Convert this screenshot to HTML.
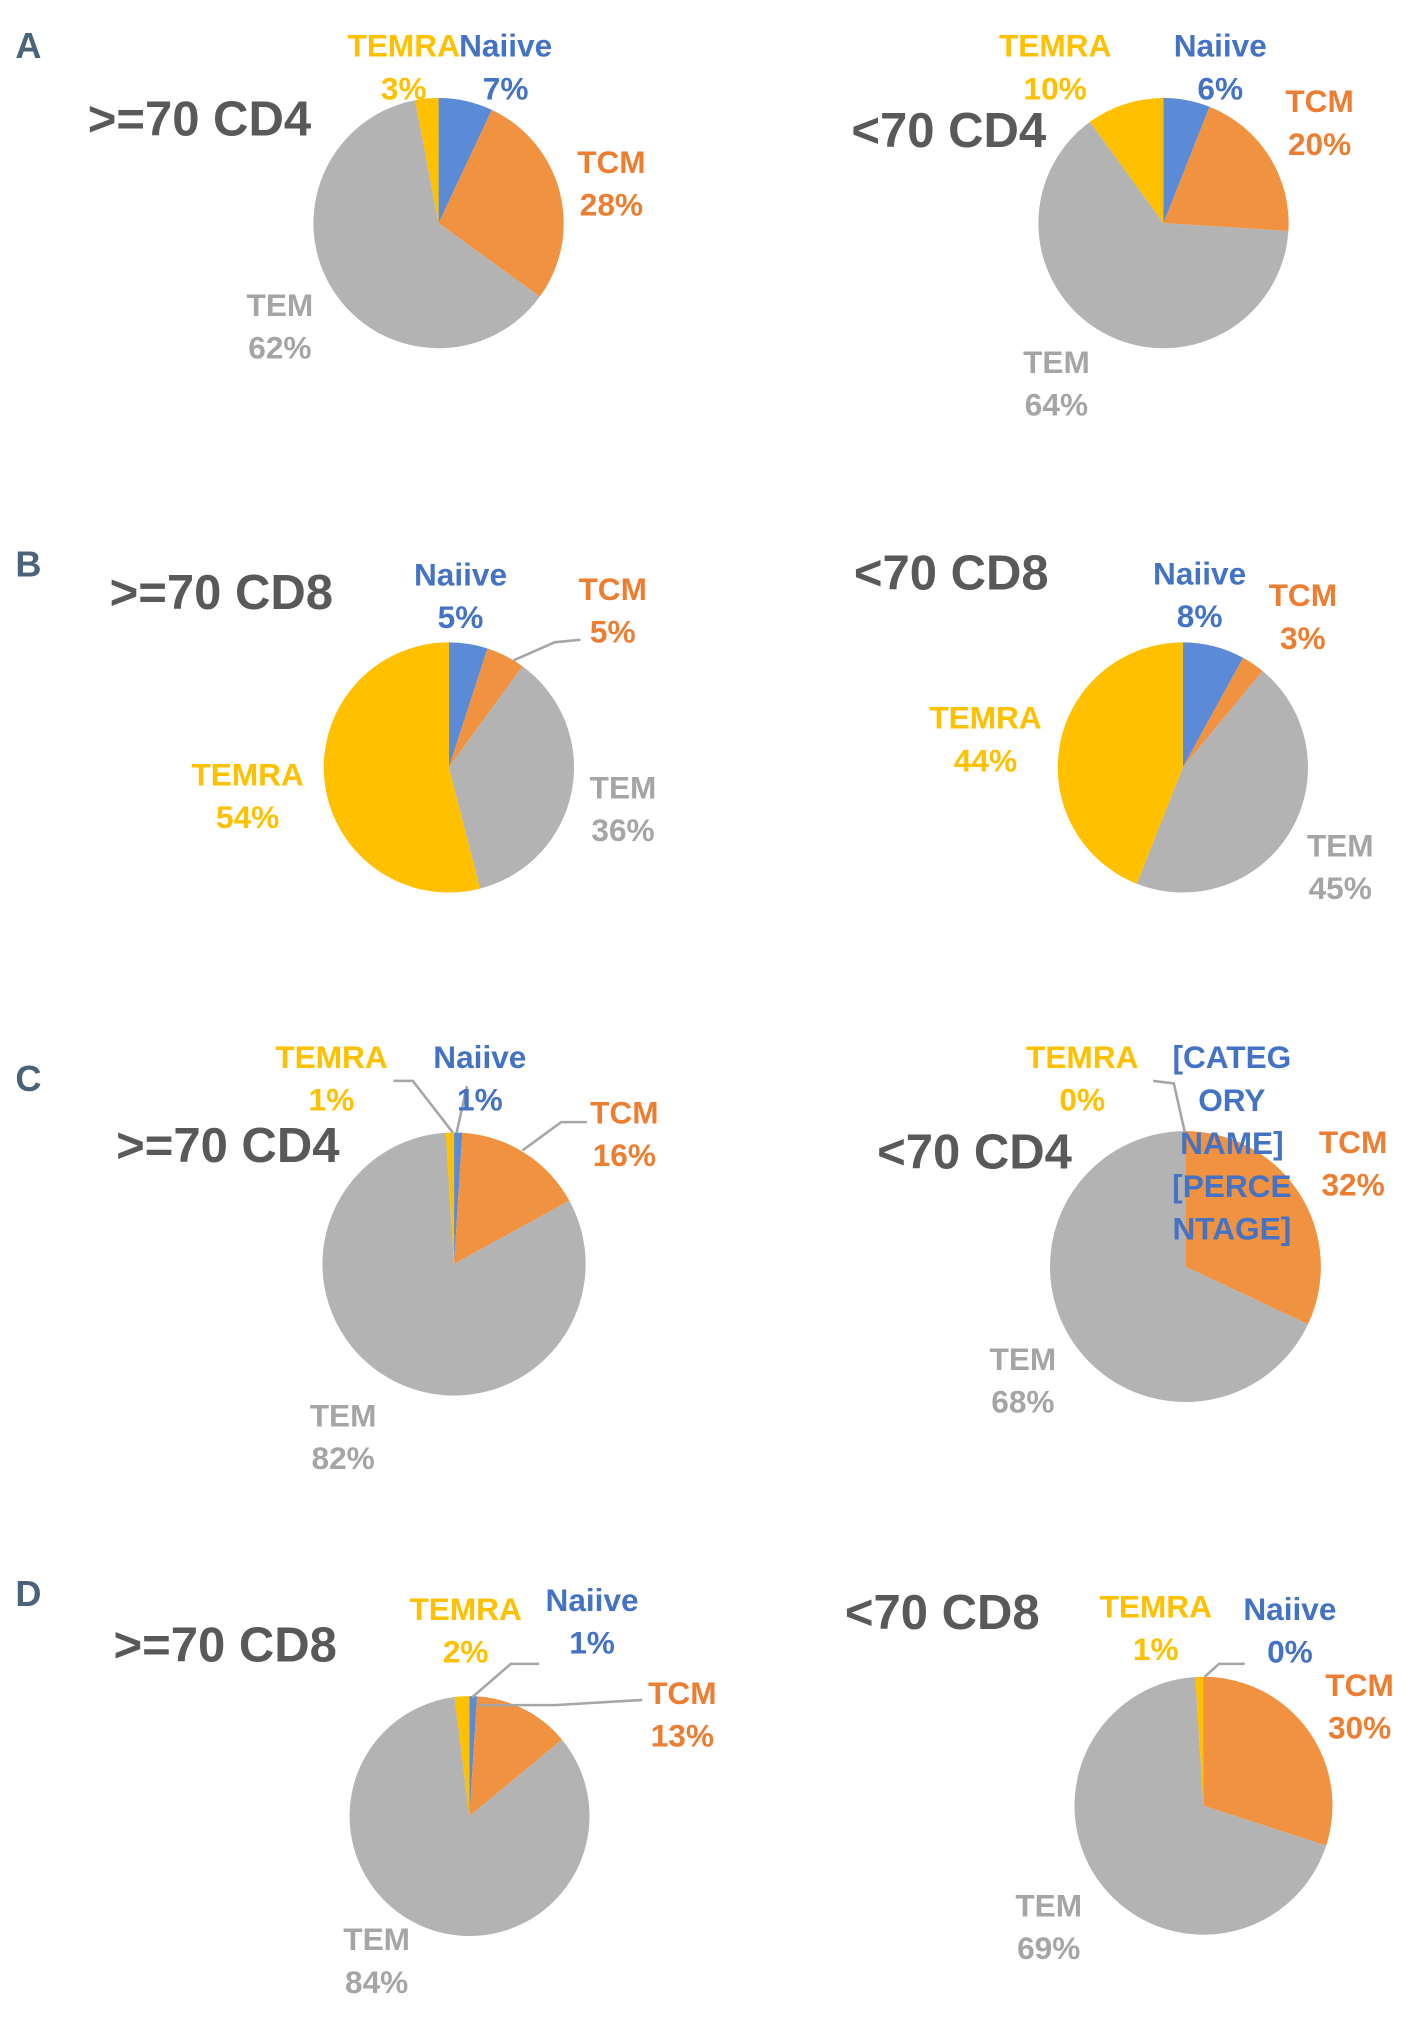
<!DOCTYPE html>
<html><head><meta charset="utf-8"><style>
html,body{margin:0;padding:0;background:#fff;}
svg{display:block;}
text{font-family:"Liberation Sans Narrow","Liberation Sans",sans-serif;font-weight:bold;}
</style></head><body>
<svg id="chart" width="1406" height="2025" viewBox="0 0 1090 1570" preserveAspectRatio="none" xmlns="http://www.w3.org/2000/svg"></svg>
<script>
const categories = ["Naiive","TCM","TEM","TEMRA"];
const panelTitles = [">=70 CD4","<70 CD4",">=70 CD8","<70 CD8",">=70 CD4","<70 CD4",">=70 CD8","<70 CD8"];
const naiiveValues = [7,6,5,8,1,0,1,0];
const tcmValues = [28,20,5,3,16,32,13,30];
const temValues = [62,64,36,45,82,68,84,69];
const temraValues = [3,10,54,44,1,0,2,1];
const panelLetters = ["A","B","C","D"];

const sliceColors = ["#5b8bd6","#f0923f","#b3b3b3","#ffc000"];
const textColors = ["#4472c4","#ed7d31","#a5a5a5","#ffc000"];
const layout = [
 {cx:340,cy:173,r:97,tx:68,ty:105,lab:[[392,35],[474,125],[217,236],[313,35]]},
 {cx:902,cy:173,r:97,tx:660,ty:114,lab:[[946,35],[1023,78],[819,280],[818,35]]},
 {cx:348,cy:595,r:97,tx:85,ty:472,lab:[[357,445],[475,456],[483,610],[192,600]],lines:[[[398,512],[430,498],[450,496]]]},
 {cx:917,cy:595,r:97,tx:662,ty:457,lab:[[930,444],[1010,461],[1039,655],[764,556]]},
 {cx:352,cy:980,r:102,tx:90,ty:901,lab:[[372,819],[484,862],[266,1097],[257,819]],lines:[[[351,878],[320,838],[305,838]],[[354,878],[362,842]],[[405,892],[435,870],[455,870]]]},
 {cx:919,cy:982,r:105,tx:680,ty:906,lab:[[955,819],[1049,885],[793,1053],[839,819]],lines:[[[919,880],[910,840],[894,838]]],catName:true},
 {cx:364,cy:1408,r:93,tx:88,ty:1288,lab:[[459,1240],[529,1312],[292,1503],[361,1247]],lines:[[[366,1316],[396,1290],[418,1290]],[[372,1322],[430,1322],[498,1318]]]},
 {cx:933,cy:1400,r:100,tx:655,ty:1263,lab:[[1000,1247],[1054,1306],[813,1477],[896,1245]],lines:[[[934,1300],[945,1290],[965,1290]]]}
];
const NS="http://www.w3.org/2000/svg";
const svg=document.getElementById('chart');
function mk(tag,attrs){const e=document.createElementNS(NS,tag);for(const k in attrs)e.setAttribute(k,attrs[k]);return e;}
function angleScale(v,total){return v/total*2*Math.PI;}

panelLetters.forEach((L,i)=>{
  const t=mk('text',{x:22,y:[45,447,846,1245][i],'text-anchor':'middle','font-size':28,fill:'#4a6378'});
  
  
  t.textContent=L;svg.appendChild(t);
});

layout.forEach((p,i)=>{
  const g=mk('g',{});
  
  
  svg.appendChild(g);
  const vals=[naiiveValues[i],tcmValues[i],temValues[i],temraValues[i]];
  const total=vals.reduce((a,b)=>a+b,0);
  let a0=0;
  vals.forEach((v,k)=>{
    const a1=a0+angleScale(v,total);
    if(v>0){
      const x0=p.cx+p.r*Math.sin(a0),y0=p.cy-p.r*Math.cos(a0);
      const x1=p.cx+p.r*Math.sin(a1),y1=p.cy-p.r*Math.cos(a1);
      const large=(a1-a0)>Math.PI?1:0;
      const path=mk('path',{d:`M${p.cx},${p.cy}L${x0},${y0}A${p.r},${p.r} 0 ${large} 1 ${x1},${y1}Z`,fill:sliceColors[k]});
      
      
      g.appendChild(path);
    }
    a0=a1;
  });
  (p.lines||[]).forEach(pts=>{
    const pl=mk('polyline',{points:pts.map(q=>q.join(',')).join(' '),fill:'none',stroke:'#a6a6a6','stroke-width':2});
    
    
    g.appendChild(pl);
  });
  const tt=mk('text',{x:p.tx,y:p.ty,'font-size':38,fill:'#595959'});
  
  
  tt.textContent=panelTitles[i];g.appendChild(tt);
  vals.forEach((v,k)=>{
    const [lx,ly]=p.lab[k];
    if(p.catName&&k===0){
      ["[CATEG","ORY","NAME]","[PERCE","NTAGE]"].forEach((s,j)=>{
        const t=mk('text',{x:lx,y:ly+9+j*33.3,'text-anchor':'middle','font-size':24.5,fill:textColors[0]});
        
        
        t.textContent=s;g.appendChild(t);
      });
      return;
    }
    const t1=mk('text',{x:lx,y:ly+9,'text-anchor':'middle','font-size':24.5,fill:textColors[k]});
    
    
    t1.textContent=categories[k];g.appendChild(t1);
    const t2=mk('text',{x:lx,y:ly+42,'text-anchor':'middle','font-size':24.5,fill:textColors[k]});
    
    
    t2.textContent=v+'%';g.appendChild(t2);
  });
});
</script>
</body></html>
